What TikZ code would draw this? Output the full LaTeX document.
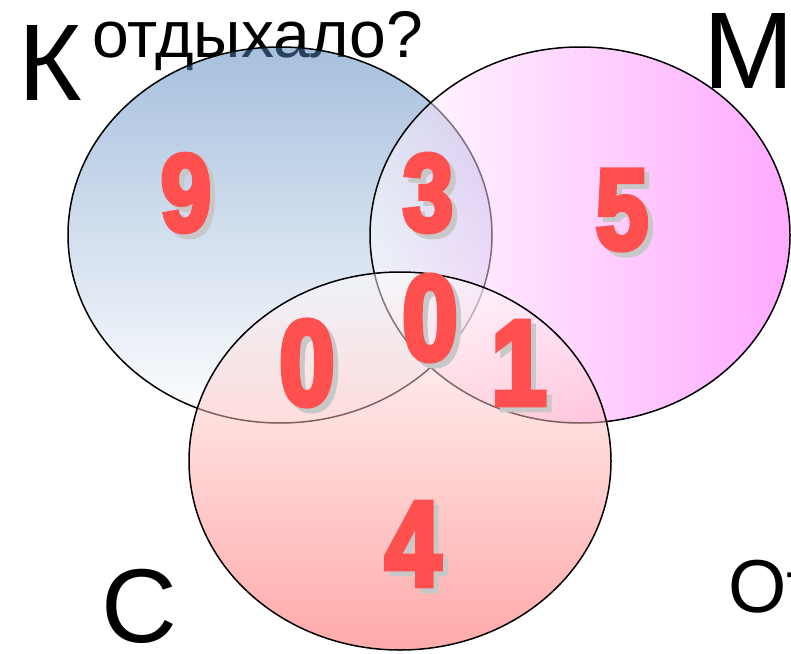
\documentclass[tikz,border=0pt]{standalone}
\usepackage{fontspec}
\setmainfont{Liberation Sans}
\newfontfamily\numfont{Liberation Sans}[FakeStretch=0.82, BoldFeatures={FakeBold=4.5}]
\usetikzlibrary{shapes.geometric}

\definecolor{kblue}{RGB}{79,129,189}
\definecolor{mpink}{RGB}{255,85,255}
\definecolor{cpink}{RGB}{255,85,85}
\definecolor{numred}{RGB}{255,80,80}
\definecolor{numshadow}{RGB}{200,200,200}

\tikzset{
  vennset/.style={ellipse, inner sep=0pt, draw=black, line width=1.5pt,
    fill opacity=0.5, draw opacity=1},
  bigletter/.style={inner sep=0pt, font=\fontsize{109}{109}\selectfont},
  digit/.style={inner sep=0pt, text=numred,
    font=\numfont\bfseries\fontsize{#1}{#1}\selectfont},
  digitshadow/.style={digit=#1, text=numshadow, xshift=5pt, yshift=-5pt},
}

% a count with its grey drop shadow: name, position, size, digit
\newcommand\venncount[4]{%
  \node[digitshadow=#3] (#1s) at (#2) {#4};
  \node[digit=#3] (#1) at (#2) {#4};}

\begin{document}
\begin{tikzpicture}[x=1pt, y=-1pt]
\useasboundingbox (0,0) rectangle (791,653);

% captions
\node[inner sep=0pt, anchor=base west, font=\fontsize{66}{66}\selectfont] (question) at (92,57) {отдыхало?};
\node[bigletter, anchor=base west] (labelK) at (18,100) {К};
\node[bigletter, anchor=base west] (labelM) at (703,88) {М};
\node[bigletter, anchor=base west, font=\fontsize{105}{105}\selectfont] (labelC) at (101,642) {С};
\node[inner sep=0pt, anchor=base west, font=\fontsize{75}{75}\selectfont] (answer) at (728,612) {От};

% the three sets
\node[vennset, minimum width=424pt, minimum height=376pt,
  top color=kblue, bottom color=white] (setK) at (280,235) {};
\node[vennset, minimum width=420pt, minimum height=376pt,
  left color=white, right color=mpink] (setM) at (580,235) {};
\node[vennset, minimum width=422pt, minimum height=378pt,
  top color=white, bottom color=cpink] (setC) at (400,461) {};

% counts in each region
\venncount{nK}{186,193}{110}{9}
\venncount{nKM}{428,193}{110}{3}
\venncount{nM}{622,210}{115}{5}
\venncount{nKMC}{430,318}{121}{0}
\venncount{nKC}{307,363}{121}{0}
\venncount{nMC}{519,363}{121}{1}
\venncount{nC}{413,544}{121}{4}
\end{tikzpicture}
\end{document}
